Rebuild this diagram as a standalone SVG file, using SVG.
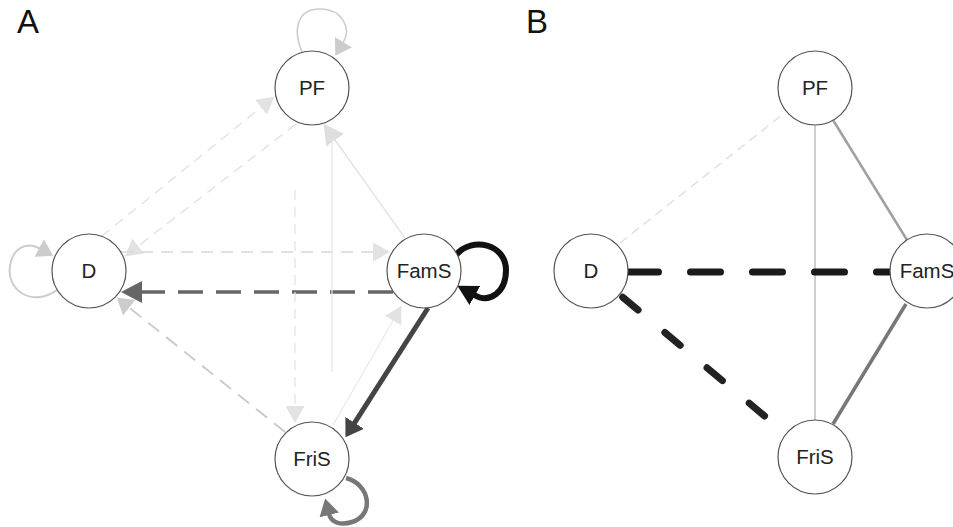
<svg xmlns="http://www.w3.org/2000/svg" width="953" height="527" viewBox="0 0 953 527">
  <style>
    .node circle { fill: #ffffff; stroke: #555555; stroke-width: 1.2; }
    .node text { font-family: "Liberation Sans", Arial, sans-serif; font-size: 20.5px; fill: #222222; text-anchor: middle; }
    .panel { font-family: "Liberation Sans", Arial, sans-serif; font-size: 33px; fill: #111111; }
    .edge { fill: none; }
  </style>
  <defs>
    <marker id="mLight" viewBox="0 0 17 19" refX="1" refY="9.5" markerWidth="17" markerHeight="19" markerUnits="userSpaceOnUse" orient="auto">
      <path d="M0,0 L17,9.5 L0,19 z" fill="#e2e2e2"/>
    </marker>
    <marker id="mLightBig" viewBox="0 0 20 22" refX="1" refY="11" markerWidth="20" markerHeight="22" markerUnits="userSpaceOnUse" orient="auto">
      <path d="M0,0 L20,11 L0,22 z" fill="#dedede"/>
    </marker>
    <marker id="mMid" viewBox="0 0 16 20" refX="1" refY="10" markerWidth="16" markerHeight="20" markerUnits="userSpaceOnUse" orient="auto">
      <path d="M0,0 L16,10 L0,20 z" fill="#cccccc"/>
    </marker>
    <marker id="mGray" viewBox="0 0 21 22" refX="1" refY="11" markerWidth="21" markerHeight="22" markerUnits="userSpaceOnUse" orient="auto">
      <path d="M0,0 L21,11 L0,22 z" fill="#666666"/>
    </marker>
    <marker id="mDark" viewBox="0 0 17 22" refX="1" refY="11" markerWidth="17" markerHeight="22" markerUnits="userSpaceOnUse" orient="auto">
      <path d="M0,0 L17,11 L0,22 z" fill="#444444"/>
    </marker>
    <marker id="mBlack" viewBox="0 0 20 22" refX="1" refY="11" markerWidth="20" markerHeight="22" markerUnits="userSpaceOnUse" orient="auto">
      <path d="M0,0 L20,11 L0,22 z" fill="#111111"/>
    </marker>
    <marker id="mLoop" viewBox="0 0 17 20" refX="1" refY="10" markerWidth="17" markerHeight="20" markerUnits="userSpaceOnUse" orient="auto">
      <path d="M0,0 L17,10 L0,20 z" fill="#777777"/>
    </marker>
  </defs>

  <text class="panel" x="17" y="33">A</text>
  <text class="panel" x="526" y="33">B</text>

  <!-- Panel A: directed network -->
  <g id="edges-a">
    <!-- self loops -->
    <path class="edge" d="M302,52 C292,28 298,9 320,9 C342,9 352,28 343,43" stroke="#cccccc" stroke-width="1.5" marker-end="url(#mMid)"/>
    <path class="edge" d="M57,290 C32,308 6,290 10,266 C13,246 28,242 40,248.5" stroke="#cccccc" stroke-width="2" marker-end="url(#mMid)"/>
    <path class="edge" d="M456,255 C472,236 506,244 506,270 C506,292 490,304 474,295" stroke="#111111" stroke-width="6" marker-end="url(#mBlack)"/>
    <path class="edge" d="M346,478 C370,484 375,515 352,522 C340,526 331,522 329,514" stroke="#777777" stroke-width="4.5" marker-end="url(#mLoop)"/>
    <!-- D -> PF and PF -> D -->
    <path class="edge" d="M102,236 L261.8,106.7" stroke="#e0e0e0" stroke-width="1.3" stroke-dasharray="10 7" marker-end="url(#mLight)"/>
    <path class="edge" d="M296,124 L137.4,246.6" stroke="#e0e0e0" stroke-width="1.3" stroke-dasharray="10 7" marker-end="url(#mLight)"/>
    <!-- D -> FamS -->
    <path class="edge" d="M121,252 L374,252" stroke="#d8d8d8" stroke-width="1.5" stroke-dasharray="12 8" marker-end="url(#mLight)"/>
    <!-- FamS -> D -->
    <path class="edge" d="M393,292 L141,292" stroke="#666666" stroke-width="3.5" stroke-dasharray="25 13" marker-end="url(#mGray)"/>
    <!-- FriS -> D -->
    <path class="edge" d="M285,432 L128.5,307" stroke="#cccccc" stroke-width="2" stroke-dasharray="14 9" marker-end="url(#mMid)"/>
    <!-- FamS -> PF -->
    <path class="edge" d="M405,238 L334.6,139.3" stroke="#dddddd" stroke-width="1.2" marker-end="url(#mLightBig)"/>
    <!-- FamS -> FriS -->
    <path class="edge" d="M428,308 L354.1,423.7" stroke="#444444" stroke-width="5" marker-end="url(#mDark)"/>
    <!-- FriS -> FamS -->
    <path class="edge" d="M333,425 L393.5,319.7" stroke="#e8e8e8" stroke-width="1.2" marker-end="url(#mLight)"/>
    <!-- PF -> FriS -->
    <path class="edge" d="M295,190 L295,407" stroke="#e4e4e4" stroke-width="1.3" stroke-dasharray="10 7" marker-end="url(#mLight)"/>
    <!-- FriS -> PF -->
    <path class="edge" d="M332,372 L332,140" stroke="#e6e6e6" stroke-width="1.2"/>
  </g>

  <g id="node-a-pf" class="node"><circle cx="312" cy="88" r="37"/><text x="312" y="95">PF</text></g>
  <g id="node-a-d" class="node"><circle cx="89" cy="271" r="37"/><text x="89" y="278">D</text></g>
  <g id="node-a-fams" class="node"><circle cx="424" cy="271" r="37"/><text x="424" y="278">FamS</text></g>
  <g id="node-a-fris" class="node"><circle cx="312" cy="459" r="37"/><text x="312" y="466">FriS</text></g>

  <!-- Panel B: undirected network -->
  <g id="edges-b">
    <path class="edge" d="M620,243 L782,115" stroke="#dddddd" stroke-width="1.3" stroke-dasharray="9 6"/>
    <path class="edge" d="M815,125 L815,420" stroke="#b4b4b4" stroke-width="1.3"/>
    <path class="edge" d="M833,120 L907,240" stroke="#a0a0a0" stroke-width="2.5"/>
    <path class="edge" d="M628.5,272 L893,272" stroke="#1a1a1a" stroke-width="7" stroke-linecap="round" stroke-dasharray="30 32"/>
    <path class="edge" d="M622.7,297.2 L767,418" stroke="#222222" stroke-width="7" stroke-linecap="round" stroke-dasharray="20 35"/>
    <path class="edge" d="M906,304 L833,424" stroke="#777777" stroke-width="3.5"/>
  </g>

  <g id="node-b-pf" class="node"><circle cx="815" cy="88" r="37"/><text x="815" y="95">PF</text></g>
  <g id="node-b-d" class="node"><circle cx="591" cy="271" r="37"/><text x="591" y="278">D</text></g>
  <g id="node-b-fams" class="node"><circle cx="927" cy="271" r="37"/><text x="927" y="278">FamS</text></g>
  <g id="node-b-fris" class="node"><circle cx="815" cy="457" r="37"/><text x="815" y="464">FriS</text></g>
</svg>
